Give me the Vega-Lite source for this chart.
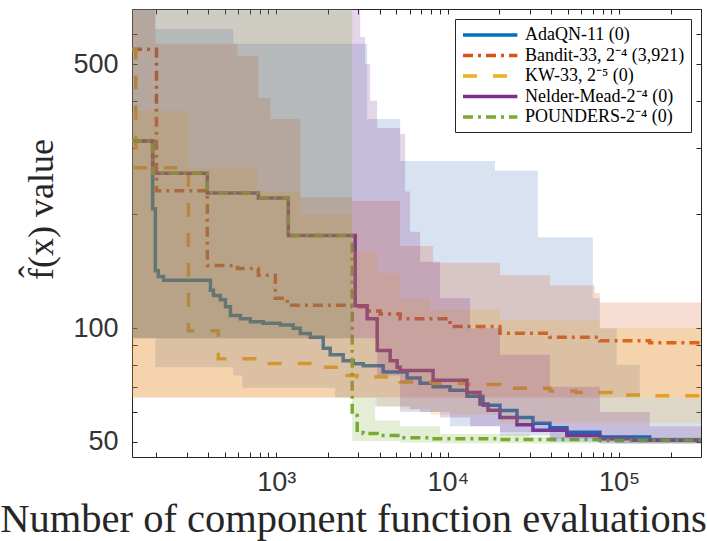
{
  "$schema": "https://vega.github.io/schema/vega-lite/v6.json",
  "width": 569,
  "height": 448,
  "autosize": "none",
  "padding": {"left": 132, "top": 9, "right": 6, "bottom": 84},
  "background": "white",
  "config": {
    "view": {"stroke": "#262626", "strokeWidth": 1},
    "axis": {"domain": false, "grid": false, "tickColor": "#262626", "tickWidth": 1, "labelOverlap": false, "labelFlush": false, "labelFont": "Liberation Sans", "labelFontSize": 27, "labelColor": "#333333", "titleFont": "Liberation Serif", "titleFontWeight": "normal", "titleColor": "#262626"}
  },
  "datasets": {
    "lines": [
      {"m": "AdaQN-11 (0)", "x": 144, "y": 313}, {"m": "AdaQN-11 (0)", "x": 190, "y": 207}, {"m": "AdaQN-11 (0)", "x": 197, "y": 142}, {"m": "AdaQN-11 (0)", "x": 205, "y": 137}, {"m": "AdaQN-11 (0)", "x": 220, "y": 134}, {"m": "AdaQN-11 (0)", "x": 413, "y": 126}, {"m": "AdaQN-11 (0)", "x": 430, "y": 122}, {"m": "AdaQN-11 (0)", "x": 472, "y": 119}, {"m": "AdaQN-11 (0)", "x": 505, "y": 114}, {"m": "AdaQN-11 (0)", "x": 540, "y": 108}, {"m": "AdaQN-11 (0)", "x": 617, "y": 106}, {"m": "AdaQN-11 (0)", "x": 706, "y": 104}, {"m": "AdaQN-11 (0)", "x": 840, "y": 103}, {"m": "AdaQN-11 (0)", "x": 1055, "y": 102}, {"m": "AdaQN-11 (0)", "x": 1256, "y": 100}, {"m": "AdaQN-11 (0)", "x": 1380, "y": 96.8}, {"m": "AdaQN-11 (0)", "x": 1578, "y": 94.6}, {"m": "AdaQN-11 (0)", "x": 1878, "y": 88.5}, {"m": "AdaQN-11 (0)", "x": 2063, "y": 85}, {"m": "AdaQN-11 (0)", "x": 2456, "y": 82}, {"m": "AdaQN-11 (0)", "x": 2809, "y": 80.5}, {"m": "AdaQN-11 (0)", "x": 3212, "y": 79.5}, {"m": "AdaQN-11 (0)", "x": 4200, "y": 76.6}, {"m": "AdaQN-11 (0)", "x": 5794, "y": 73.8}, {"m": "AdaQN-11 (0)", "x": 6900, "y": 71.5}, {"m": "AdaQN-11 (0)", "x": 8214, "y": 70}, {"m": "AdaQN-11 (0)", "x": 10313, "y": 68.5}, {"m": "AdaQN-11 (0)", "x": 12953, "y": 66}, {"m": "AdaQN-11 (0)", "x": 16058, "y": 62.5}, {"m": "AdaQN-11 (0)", "x": 20166, "y": 60.5}, {"m": "AdaQN-11 (0)", "x": 25330, "y": 58}, {"m": "AdaQN-11 (0)", "x": 31390, "y": 56}, {"m": "AdaQN-11 (0)", "x": 39430, "y": 54.5}, {"m": "AdaQN-11 (0)", "x": 49530, "y": 53}, {"m": "AdaQN-11 (0)", "x": 77090, "y": 51.5}, {"m": "AdaQN-11 (0)", "x": 150750, "y": 50.6}, {"m": "AdaQN-11 (0)", "x": 300000, "y": 50.4},
      {"m": "Bandit-33, 2⁻⁴ (3,921)", "x": 144, "y": 548}, {"m": "Bandit-33, 2⁻⁴ (3,921)", "x": 200, "y": 231}, {"m": "Bandit-33, 2⁻⁴ (3,921)", "x": 396, "y": 146.5}, {"m": "Bandit-33, 2⁻⁴ (3,921)", "x": 593, "y": 144}, {"m": "Bandit-33, 2⁻⁴ (3,921)", "x": 786, "y": 138}, {"m": "Bandit-33, 2⁻⁴ (3,921)", "x": 987, "y": 120}, {"m": "Bandit-33, 2⁻⁴ (3,921)", "x": 1159, "y": 115}, {"m": "Bandit-33, 2⁻⁴ (3,921)", "x": 2771, "y": 114}, {"m": "Bandit-33, 2⁻⁴ (3,921)", "x": 3388, "y": 111}, {"m": "Bandit-33, 2⁻⁴ (3,921)", "x": 4034, "y": 109}, {"m": "Bandit-33, 2⁻⁴ (3,921)", "x": 5276, "y": 106}, {"m": "Bandit-33, 2⁻⁴ (3,921)", "x": 10313, "y": 101}, {"m": "Bandit-33, 2⁻⁴ (3,921)", "x": 20166, "y": 97}, {"m": "Bandit-33, 2⁻⁴ (3,921)", "x": 39430, "y": 94.6}, {"m": "Bandit-33, 2⁻⁴ (3,921)", "x": 77090, "y": 92.7}, {"m": "Bandit-33, 2⁻⁴ (3,921)", "x": 150750, "y": 91.5}, {"m": "Bandit-33, 2⁻⁴ (3,921)", "x": 300000, "y": 91},
      {"m": "KW-33, 2⁻⁵ (0)", "x": 144, "y": 548}, {"m": "KW-33, 2⁻⁵ (0)", "x": 151.5, "y": 266}, {"m": "KW-33, 2⁻⁵ (0)", "x": 307, "y": 98.4}, {"m": "KW-33, 2⁻⁵ (0)", "x": 459, "y": 83}, {"m": "KW-33, 2⁻⁵ (0)", "x": 840, "y": 81}, {"m": "KW-33, 2⁻⁵ (0)", "x": 886, "y": 80.6}, {"m": "KW-33, 2⁻⁵ (0)", "x": 1878, "y": 78.8}, {"m": "KW-33, 2⁻⁵ (0)", "x": 2591, "y": 75}, {"m": "KW-33, 2⁻⁵ (0)", "x": 2964, "y": 74.3}, {"m": "KW-33, 2⁻⁵ (0)", "x": 5276, "y": 72}, {"m": "KW-33, 2⁻⁵ (0)", "x": 8214, "y": 71.4}, {"m": "KW-33, 2⁻⁵ (0)", "x": 12953, "y": 70.9}, {"m": "KW-33, 2⁻⁵ (0)", "x": 20166, "y": 69.3}, {"m": "KW-33, 2⁻⁵ (0)", "x": 39430, "y": 68.2}, {"m": "KW-33, 2⁻⁵ (0)", "x": 56000, "y": 67.6}, {"m": "KW-33, 2⁻⁵ (0)", "x": 96830, "y": 66.5}, {"m": "KW-33, 2⁻⁵ (0)", "x": 150000, "y": 66.2}, {"m": "KW-33, 2⁻⁵ (0)", "x": 300000, "y": 66.2},
      {"m": "Nelder-Mead-2⁻⁴ (0)", "x": 144, "y": 313}, {"m": "Nelder-Mead-2⁻⁴ (0)", "x": 190, "y": 257}, {"m": "Nelder-Mead-2⁻⁴ (0)", "x": 396, "y": 228}, {"m": "Nelder-Mead-2⁻⁴ (0)", "x": 786, "y": 221}, {"m": "Nelder-Mead-2⁻⁴ (0)", "x": 1175, "y": 176}, {"m": "Nelder-Mead-2⁻⁴ (0)", "x": 2885, "y": 114.7}, {"m": "Nelder-Mead-2⁻⁴ (0)", "x": 3388, "y": 106}, {"m": "Nelder-Mead-2⁻⁴ (0)", "x": 3875, "y": 87.3}, {"m": "Nelder-Mead-2⁻⁴ (0)", "x": 4613, "y": 82}, {"m": "Nelder-Mead-2⁻⁴ (0)", "x": 5067, "y": 78.8}, {"m": "Nelder-Mead-2⁻⁴ (0)", "x": 5276, "y": 77.3}, {"m": "Nelder-Mead-2⁻⁴ (0)", "x": 8214, "y": 72.8}, {"m": "Nelder-Mead-2⁻⁴ (0)", "x": 12953, "y": 67.6}, {"m": "Nelder-Mead-2⁻⁴ (0)", "x": 15420, "y": 63}, {"m": "Nelder-Mead-2⁻⁴ (0)", "x": 17170, "y": 60.6}, {"m": "Nelder-Mead-2⁻⁴ (0)", "x": 20166, "y": 58}, {"m": "Nelder-Mead-2⁻⁴ (0)", "x": 25330, "y": 55.5}, {"m": "Nelder-Mead-2⁻⁴ (0)", "x": 31390, "y": 53.7}, {"m": "Nelder-Mead-2⁻⁴ (0)", "x": 49530, "y": 52}, {"m": "Nelder-Mead-2⁻⁴ (0)", "x": 77090, "y": 51}, {"m": "Nelder-Mead-2⁻⁴ (0)", "x": 120000, "y": 50.5}, {"m": "Nelder-Mead-2⁻⁴ (0)", "x": 300000, "y": 50.3},
      {"m": "POUNDERS-2⁻⁴ (0)", "x": 144, "y": 313}, {"m": "POUNDERS-2⁻⁴ (0)", "x": 190, "y": 257}, {"m": "POUNDERS-2⁻⁴ (0)", "x": 396, "y": 228}, {"m": "POUNDERS-2⁻⁴ (0)", "x": 786, "y": 221}, {"m": "POUNDERS-2⁻⁴ (0)", "x": 1175, "y": 176}, {"m": "POUNDERS-2⁻⁴ (0)", "x": 2771, "y": 58.7}, {"m": "POUNDERS-2⁻⁴ (0)", "x": 2964, "y": 53.7}, {"m": "POUNDERS-2⁻⁴ (0)", "x": 3212, "y": 52.6}, {"m": "POUNDERS-2⁻⁴ (0)", "x": 3875, "y": 52}, {"m": "POUNDERS-2⁻⁴ (0)", "x": 5276, "y": 51.3}, {"m": "POUNDERS-2⁻⁴ (0)", "x": 7887, "y": 51}, {"m": "POUNDERS-2⁻⁴ (0)", "x": 20166, "y": 50.7}, {"m": "POUNDERS-2⁻⁴ (0)", "x": 77090, "y": 50.4}, {"m": "POUNDERS-2⁻⁴ (0)", "x": 300000, "y": 50.2}
    ],
    "bands": [
      {"m": "AdaQN-11 (0)", "x": 144, "lo": 94, "hi": 700}, {"m": "AdaQN-11 (0)", "x": 197, "lo": 78.8, "hi": 620}, {"m": "AdaQN-11 (0)", "x": 562, "lo": 75, "hi": 566}, {"m": "AdaQN-11 (0)", "x": 634, "lo": 69.6, "hi": 566}, {"m": "AdaQN-11 (0)", "x": 2206, "lo": 65.5, "hi": 566}, {"m": "AdaQN-11 (0)", "x": 3388, "lo": 65.5, "hi": 358}, {"m": "AdaQN-11 (0)", "x": 3773, "lo": 62, "hi": 358}, {"m": "AdaQN-11 (0)", "x": 5276, "lo": 60, "hi": 277}, {"m": "AdaQN-11 (0)", "x": 10313, "lo": 55, "hi": 277}, {"m": "AdaQN-11 (0)", "x": 18860, "lo": 55, "hi": 261}, {"m": "AdaQN-11 (0)", "x": 20166, "lo": 52, "hi": 261}, {"m": "AdaQN-11 (0)", "x": 33570, "lo": 52, "hi": 174}, {"m": "AdaQN-11 (0)", "x": 39430, "lo": 50, "hi": 174}, {"m": "AdaQN-11 (0)", "x": 70200, "lo": 50, "hi": 120}, {"m": "AdaQN-11 (0)", "x": 77090, "lo": 50, "hi": 100}, {"m": "AdaQN-11 (0)", "x": 96830, "lo": 49.5, "hi": 80}, {"m": "AdaQN-11 (0)", "x": 131800, "lo": 49.5, "hi": 65.5}, {"m": "AdaQN-11 (0)", "x": 300000, "lo": 49.5, "hi": 65.5},
      {"m": "Bandit-33, 2⁻⁴ (3,921)", "x": 144, "lo": 65.5, "hi": 700}, {"m": "Bandit-33, 2⁻⁴ (3,921)", "x": 197, "lo": 65.5, "hi": 566}, {"m": "Bandit-33, 2⁻⁴ (3,921)", "x": 593, "lo": 65.5, "hi": 525}, {"m": "Bandit-33, 2⁻⁴ (3,921)", "x": 786, "lo": 65.5, "hi": 407}, {"m": "Bandit-33, 2⁻⁴ (3,921)", "x": 923, "lo": 65.5, "hi": 358}, {"m": "Bandit-33, 2⁻⁴ (3,921)", "x": 1380, "lo": 65.5, "hi": 222}, {"m": "Bandit-33, 2⁻⁴ (3,921)", "x": 2771, "lo": 65.5, "hi": 217}, {"m": "Bandit-33, 2⁻⁴ (3,921)", "x": 5276, "lo": 65.5, "hi": 165}, {"m": "Bandit-33, 2⁻⁴ (3,921)", "x": 8214, "lo": 65.5, "hi": 149}, {"m": "Bandit-33, 2⁻⁴ (3,921)", "x": 20166, "lo": 65.5, "hi": 138}, {"m": "Bandit-33, 2⁻⁴ (3,921)", "x": 39430, "lo": 65.5, "hi": 130}, {"m": "Bandit-33, 2⁻⁴ (3,921)", "x": 72110, "lo": 65.5, "hi": 124}, {"m": "Bandit-33, 2⁻⁴ (3,921)", "x": 77090, "lo": 65.5, "hi": 117}, {"m": "Bandit-33, 2⁻⁴ (3,921)", "x": 300000, "lo": 65.5, "hi": 117},
      {"m": "KW-33, 2⁻⁵ (0)", "x": 144, "lo": 65.5, "hi": 376}, {"m": "KW-33, 2⁻⁵ (0)", "x": 307, "lo": 65.5, "hi": 266}, {"m": "KW-33, 2⁻⁵ (0)", "x": 775, "lo": 65.5, "hi": 230}, {"m": "KW-33, 2⁻⁵ (0)", "x": 1380, "lo": 65.5, "hi": 200}, {"m": "KW-33, 2⁻⁵ (0)", "x": 2771, "lo": 65.5, "hi": 160}, {"m": "KW-33, 2⁻⁵ (0)", "x": 3875, "lo": 62, "hi": 140}, {"m": "KW-33, 2⁻⁵ (0)", "x": 5276, "lo": 61, "hi": 120}, {"m": "KW-33, 2⁻⁵ (0)", "x": 7887, "lo": 59, "hi": 112}, {"m": "KW-33, 2⁻⁵ (0)", "x": 20166, "lo": 56, "hi": 105}, {"m": "KW-33, 2⁻⁵ (0)", "x": 77090, "lo": 56, "hi": 100}, {"m": "KW-33, 2⁻⁵ (0)", "x": 300000, "lo": 56, "hi": 100},
      {"m": "Nelder-Mead-2⁻⁴ (0)", "x": 144, "lo": 94, "hi": 700}, {"m": "Nelder-Mead-2⁻⁴ (0)", "x": 3085, "lo": 94, "hi": 590}, {"m": "Nelder-Mead-2⁻⁴ (0)", "x": 3298, "lo": 94, "hi": 500}, {"m": "Nelder-Mead-2⁻⁴ (0)", "x": 3528, "lo": 94, "hi": 400}, {"m": "Nelder-Mead-2⁻⁴ (0)", "x": 3875, "lo": 75, "hi": 339}, {"m": "Nelder-Mead-2⁻⁴ (0)", "x": 5276, "lo": 62, "hi": 327}, {"m": "Nelder-Mead-2⁻⁴ (0)", "x": 5641, "lo": 62, "hi": 230}, {"m": "Nelder-Mead-2⁻⁴ (0)", "x": 6031, "lo": 61, "hi": 180}, {"m": "Nelder-Mead-2⁻⁴ (0)", "x": 6900, "lo": 60, "hi": 150}, {"m": "Nelder-Mead-2⁻⁴ (0)", "x": 9020, "lo": 58, "hi": 120}, {"m": "Nelder-Mead-2⁻⁴ (0)", "x": 13490, "lo": 55, "hi": 100}, {"m": "Nelder-Mead-2⁻⁴ (0)", "x": 20166, "lo": 53, "hi": 85}, {"m": "Nelder-Mead-2⁻⁴ (0)", "x": 39430, "lo": 51, "hi": 70}, {"m": "Nelder-Mead-2⁻⁴ (0)", "x": 77090, "lo": 49.5, "hi": 60}, {"m": "Nelder-Mead-2⁻⁴ (0)", "x": 150750, "lo": 49.5, "hi": 55}, {"m": "Nelder-Mead-2⁻⁴ (0)", "x": 300000, "lo": 49.5, "hi": 53},
      {"m": "POUNDERS-2⁻⁴ (0)", "x": 144, "lo": 94, "hi": 700}, {"m": "POUNDERS-2⁻⁴ (0)", "x": 2771, "lo": 50.3, "hi": 65.5}, {"m": "POUNDERS-2⁻⁴ (0)", "x": 3773, "lo": 50.2, "hi": 57}, {"m": "POUNDERS-2⁻⁴ (0)", "x": 5276, "lo": 49.8, "hi": 55}, {"m": "POUNDERS-2⁻⁴ (0)", "x": 9020, "lo": 49.6, "hi": 52.5}, {"m": "POUNDERS-2⁻⁴ (0)", "x": 30000, "lo": 49.5, "hi": 51.5}, {"m": "POUNDERS-2⁻⁴ (0)", "x": 300000, "lo": 49.5, "hi": 51}
    ]
  },
  "layer": [
    {
      "data": {"name": "lines"},
      "mark": {"type": "line", "interpolate": "step-after", "strokeWidth": 3.5, "clip": true},
      "encoding": {
        "x": {"field": "x", "type": "quantitative", "scale": {"type": "log", "domain": [144, 300000], "nice": false},
          "axis": {"orient": "bottom", "values": [200, 300, 400, 500, 600, 700, 800, 900, 1000, 2000, 3000, 4000, 5000, 6000, 7000, 8000, 9000, 10000, 20000, 30000, 40000, 50000, 60000, 70000, 80000, 90000, 100000, 200000],
            "labelExpr": "datum.value == 1000 ? '10³' : datum.value == 10000 ? '10⁴' : datum.value == 100000 ? '10⁵' : ''",
            "tickSize": -5, "labelPadding": 17, "labelBaseline": "top",
            "title": "Number of component function evaluations", "titleFontSize": 40.5, "titleBaseline": "alphabetic", "titleY": 74, "titleX": 221}},
        "y": {"field": "y", "type": "quantitative", "scale": {"type": "log", "domain": [45.6, 700], "nice": false},
          "axis": {"orient": "left", "values": [50, 60, 70, 80, 90, 100, 200, 300, 400, 500, 600, 700], "format": "d",
            "labelExpr": "datum.value == 50 || datum.value == 100 || datum.value == 500 ? datum.label : ''",
            "tickSize": -5, "labelPadding": 19,
            "title": "f̂(x) value", "titleFontSize": 36, "titleBaseline": "alphabetic", "titleX": -80, "titleY": 200, "titleAngle": -90}},
        "color": {"field": "m", "type": "nominal",
          "scale": {"domain": ["AdaQN-11 (0)", "Bandit-33, 2⁻⁴ (3,921)", "KW-33, 2⁻⁵ (0)", "Nelder-Mead-2⁻⁴ (0)", "POUNDERS-2⁻⁴ (0)"], "range": ["#0072BD", "#D95319", "#EDB120", "#7E2F8E", "#77AC30"]},
          "legend": {"title": null, "orient": "none", "legendX": 323, "legendY": 10, "symbolType": "M-1,0H5.8", "symbolSize": 256, "symbolStrokeWidth": 3.5, "labelFont": "Liberation Serif", "labelFontSize": 18, "labelColor": "black", "fillColor": "white", "strokeColor": "#262626", "padding": 6, "rowPadding": 1.5, "labelOffset": 44}},
        "strokeDash": {"field": "m", "type": "nominal",
          "scale": {"domain": ["AdaQN-11 (0)", "Bandit-33, 2⁻⁴ (3,921)", "KW-33, 2⁻⁵ (0)", "Nelder-Mead-2⁻⁴ (0)", "POUNDERS-2⁻⁴ (0)"], "range": [[1, 0], [10, 5, 3, 5], [14, 16], [1, 0], [10, 5, 3, 5]]},
          "legend": {"title": null, "orient": "none", "legendX": 323, "legendY": 10, "symbolType": "M-1,0H5.8", "symbolSize": 256, "symbolStrokeWidth": 3.5, "labelFont": "Liberation Serif", "labelFontSize": 18, "labelColor": "black", "fillColor": "white", "strokeColor": "#262626", "padding": 6, "rowPadding": 1.5, "labelOffset": 44}}
      }
    },
    {
      "data": {"name": "bands"},
      "mark": {"type": "area", "interpolate": "step-after", "opacity": 0.2, "clip": true},
      "encoding": {
        "x": {"field": "x", "type": "quantitative", "axis": {"orient": "top", "values": [200, 300, 400, 500, 600, 700, 800, 900, 1000, 2000, 3000, 4000, 5000, 6000, 7000, 8000, 9000, 10000, 20000, 30000, 40000, 50000, 60000, 70000, 80000, 90000, 100000, 200000], "labels": false, "tickSize": -5, "title": null}},
        "y": {"field": "hi", "type": "quantitative", "axis": {"orient": "right", "values": [50, 60, 70, 80, 90, 100, 200, 300, 400, 500, 600, 700], "labels": false, "tickSize": -5, "title": null}},
        "y2": {"field": "lo"},
        "fill": {"field": "m", "type": "nominal", "legend": null,
          "scale": {"domain": ["AdaQN-11 (0)", "Bandit-33, 2⁻⁴ (3,921)", "KW-33, 2⁻⁵ (0)", "Nelder-Mead-2⁻⁴ (0)", "POUNDERS-2⁻⁴ (0)"], "range": ["#416EB4", "#D95319", "#EDB120", "#7E2F8E", "#77AC30"]}}
      }
    },
    {
      "mark": {"type": "rule", "color": "black", "strokeWidth": 1.5},
      "encoding": {"y": {"datum": 48.6, "axis": null}}
    }
  ],
  "resolve": {"axis": {"x": "independent", "y": "independent"}}
}
